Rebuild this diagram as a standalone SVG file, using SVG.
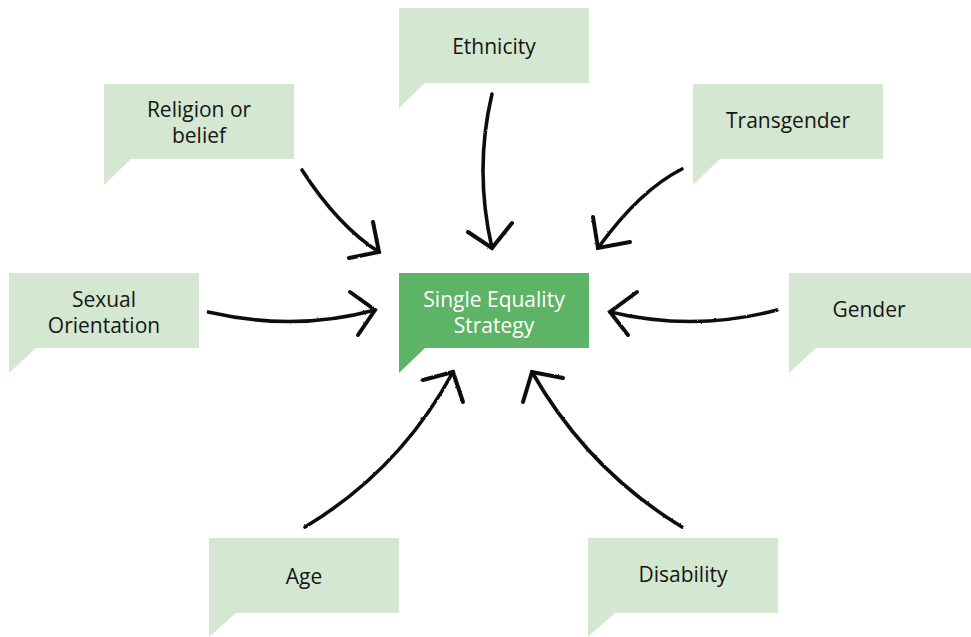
<svg xmlns="http://www.w3.org/2000/svg" width="971" height="637" viewBox="0 0 971 637">
  <defs>
    <style>
      .box { fill: #d4e7d1; }
      .core { fill: #5db366; }
      .lbl { font-family: "Open Sans", "Noto Sans", sans-serif; font-size: 21px; fill: #161616; text-anchor: middle; }
      .core-lbl { fill: #ffffff; }
      .shaft { fill: none; stroke: #111; stroke-width: 3.6; stroke-linecap: round; }
      .head { fill: none; stroke: #111; stroke-width: 4; stroke-linecap: round; stroke-linejoin: miter; }
    </style>
    <filter id="brush" x="-10%" y="-10%" width="120%" height="120%">
      <feTurbulence type="fractalNoise" baseFrequency="0.35" numOctaves="2" seed="3" result="n"/>
      <feDisplacementMap in="SourceGraphic" in2="n" scale="1.8" xChannelSelector="R" yChannelSelector="G"/>
    </filter>
  </defs>

  <rect width="971" height="637" fill="#ffffff"/>

  <!-- callout boxes: rectangle plus a small tail at the lower left -->
  <g id="ethnicity">
    <path class="box" d="M399,8 H589 V83 H425 L399,108 Z"/>
    <text class="lbl" x="494" y="54">Ethnicity</text>
  </g>

  <g id="religion">
    <path class="box" d="M104,84 H294 V159 H131 L104,185 Z"/>
    <text class="lbl" x="199" y="117">Religion or</text>
    <text class="lbl" x="199" y="143">belief</text>
  </g>

  <g id="transgender">
    <path class="box" d="M693,84 H883 V159 H720 L693,185 Z"/>
    <text class="lbl" x="788" y="128">Transgender</text>
  </g>

  <g id="sexual-orientation">
    <path class="box" d="M9,273 H199 V348 H36 L9,373 Z"/>
    <text class="lbl" x="104" y="307">Sexual</text>
    <text class="lbl" x="104" y="333">Orientation</text>
  </g>

  <g id="single-equality-strategy">
    <path class="core" d="M399,273 H589 V348 H425 L399,373 Z"/>
    <text class="lbl core-lbl" x="494" y="307">Single Equality</text>
    <text class="lbl core-lbl" x="494" y="333">Strategy</text>
  </g>

  <g id="gender">
    <path class="box" d="M789,273 H979 V348 H816 L789,373 Z"/>
    <text class="lbl" x="869" y="317">Gender</text>
  </g>

  <g id="age">
    <path class="box" d="M209,538 H399 V613 H236 L209,637 Z"/>
    <text class="lbl" x="304" y="584">Age</text>
  </g>

  <g id="disability">
    <path class="box" d="M588,538 H778 V613 H615 L588,637 Z"/>
    <text class="lbl" x="683" y="582">Disability</text>
  </g>

  <!-- hand-drawn arrows pointing in to the strategy -->
  <g id="connectors" filter="url(#brush)">
    <path class="shaft" d="M302,170 Q338,226 379,252"/>
    <path class="head" d="M373,222 L379,252 L349,258"/>

    <path class="shaft" d="M492,94 Q474,170 492,248"/>
    <path class="head" d="M468,232 L492,248 L512,223"/>

    <path class="shaft" d="M682,169 Q640,190 598,248"/>
    <path class="head" d="M593,217 L598,248 L630,242"/>

    <path class="shaft" d="M208,312 Q295,332 375,310"/>
    <path class="head" d="M350,292 L375,310 L358,335"/>

    <path class="shaft" d="M777,310 Q695,332 610,312"/>
    <path class="head" d="M637,292 L610,312 L628,335"/>

    <path class="shaft" d="M305,527 Q400,470 453,372"/>
    <path class="head" d="M423,380 L453,372 L463,402"/>

    <path class="shaft" d="M682,527 Q588,470 532,372"/>
    <path class="head" d="M563,378 L532,372 L523,402"/>
  </g>
</svg>
